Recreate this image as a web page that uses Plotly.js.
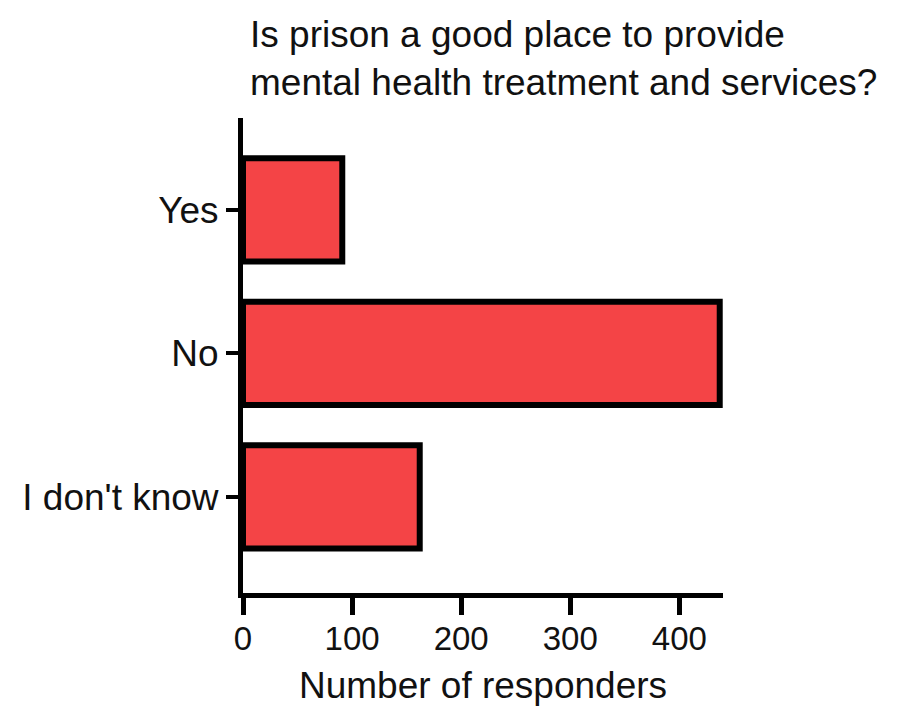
<!DOCTYPE html>
<html>
<head>
<meta charset="utf-8">
<script src="https://cdn.plot.ly/plotly-3.0.1.min.js"></script>
<style>html,body{margin:0;padding:0;background:#fff;}#chart{width:909px;height:719px;}</style>
</head>
<body>
<div id="chart"></div>
<script>
var categories = ["I don't know", "No", "Yes"];
var responders = [162, 437, 91];
var xTickVals = [0, 100, 200, 300, 400];

var trace = {
  type: 'bar',
  orientation: 'h',
  y: categories,
  x: responders,
  marker: {color: 'rgb(244,68,70)', line: {color: '#000', width: 6}},
  width: 0.72,
  hoverinfo: 'x+y'
};

var font = 'Liberation Sans, Arial, sans-serif';
var layout = {
  width: 909, height: 719,
  margin: {l: 243, r: 186, t: 118, b: 126},
  paper_bgcolor: '#fff', plot_bgcolor: '#fff',
  showlegend: false,
  font: {family: font, color: '#111', size: 34},
  title: {
    text: 'Is prison a good place to provide<br>mental health treatment and services?',
    x: 0, xref: 'paper', xanchor: 'left',
    y: 0.935, yref: 'container', yanchor: 'top',
    pad: {l: 7},
    font: {family: font, size: 37, color: '#111'}
  },
  xaxis: {
    range: [0, 440],
    tickvals: xTickVals,
    ticktext: xTickVals.map(String),
    showgrid: false, zeroline: false,
    showline: true, linecolor: '#000', linewidth: 5,
    ticks: 'outside', ticklen: 17, tickwidth: 5, tickcolor: '#000',
    ticklabelstandoff: -5,
    tickfont: {family: font, size: 33, color: '#111'},
    title: {text: 'Number of responders', standoff: 18, font: {family: font, size: 37, color: '#111'}}
  },
  yaxis: {
    type: 'category',
    range: [-0.67, 2.64],
    showgrid: false, zeroline: false,
    showline: true, linecolor: '#000', linewidth: 5,
    ticks: 'outside', ticklen: 12, tickwidth: 4, tickcolor: '#000',
    ticklabelstandoff: 0,
    tickfont: {family: font, size: 37, color: '#111'}
  }
};

Plotly.newPlot('chart', [trace], layout, {displayModeBar: false, staticPlot: true});
</script>
</body>
</html>
